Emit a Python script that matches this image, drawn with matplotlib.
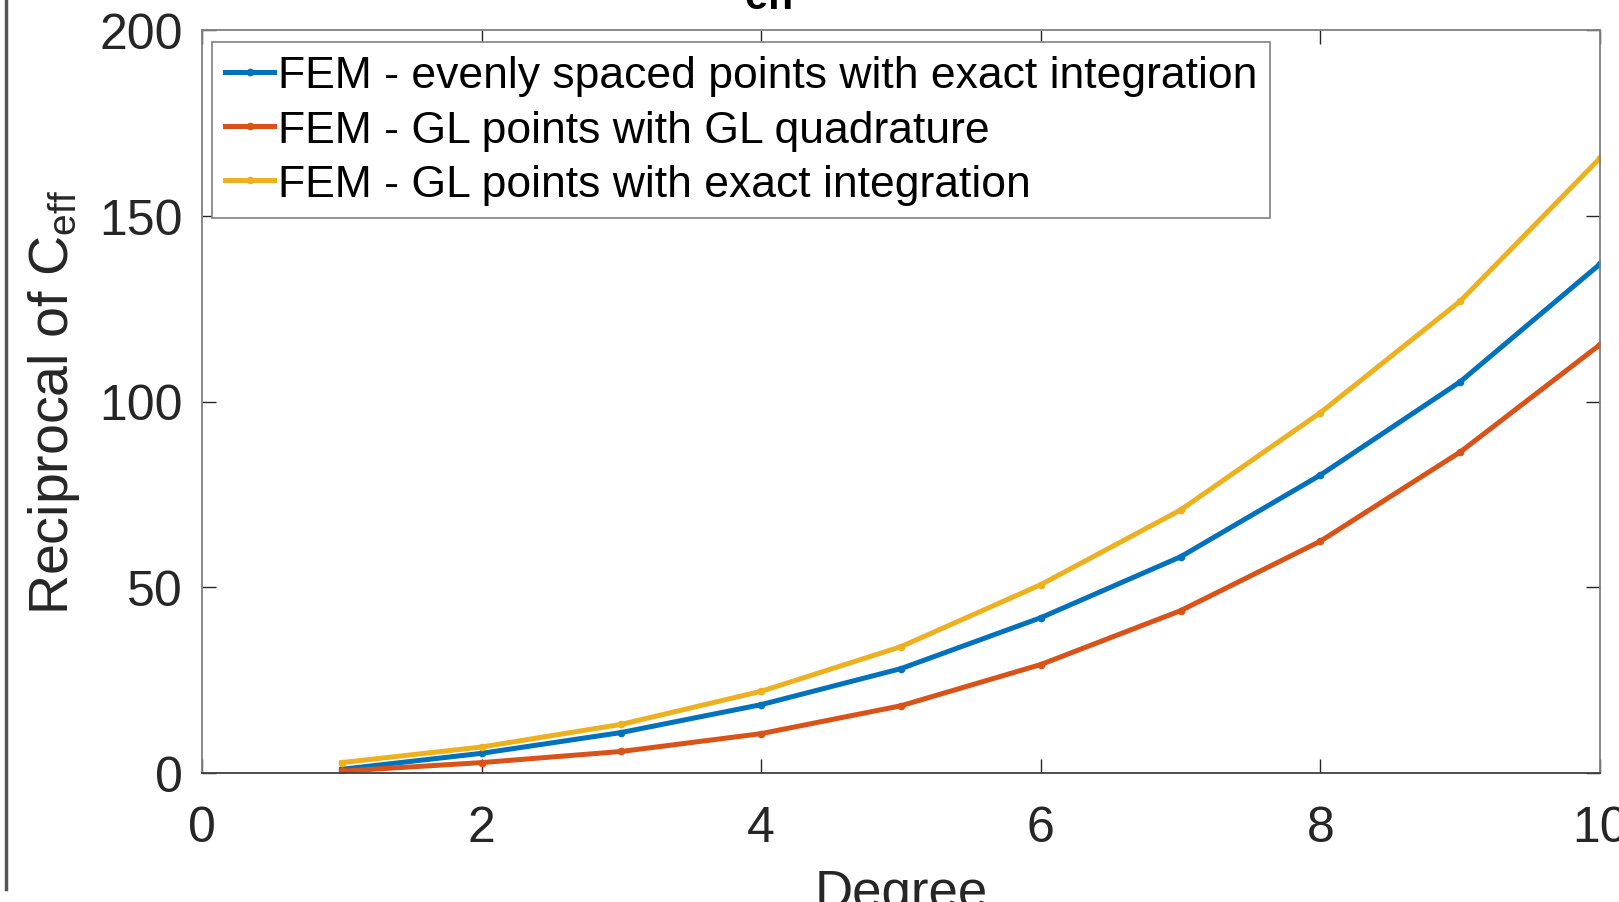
"""
Reciprocal of C_eff against polynomial degree for three FEM variants.
"""

import matplotlib
matplotlib.use("Agg")
import matplotlib.pyplot as plt
from matplotlib.lines import Line2D

plt.rcParams["font.family"] = ["Liberation Sans", "DejaVu Sans"]
plt.rcParams["mathtext.fontset"] = "custom"
plt.rcParams["mathtext.rm"] = "Liberation Sans"
plt.rcParams["mathtext.it"] = "Liberation Sans"

# Data
degree = [1, 2, 3, 4, 5, 6, 7, 8, 9, 10]
even_exact = [1.0, 5.3, 10.9, 18.4, 28.1, 41.8, 58.2, 80.2, 105.3, 137.0]
gl_gl = [0.5, 2.8, 5.8, 10.6, 18.1, 29.2, 43.7, 62.4, 86.4, 115.3]
gl_exact = [2.8, 7.0, 13.1, 22.0, 34.0, 50.7, 70.8, 97.0, 127.0, 165.5]
labels = [
    "FEM - evenly spaced points with exact integration",
    "FEM - GL points with GL quadrature",
    "FEM - GL points with exact integration",
]
colors = ["#0072BD", "#D95319", "#EDB120"]
xticks = [0, 2, 4, 6, 8, 10]
yticks = [0, 50, 100, 150, 200]

W, H = 1619, 903


def main():
    fig = plt.figure(figsize=(W / 100, H / 100), dpi=100)
    ax = fig.add_axes([202 / W, 1 - 774 / H, (1600 - 202) / W, (774 - 31) / H])

    for ys, c, lab in zip([even_exact, gl_gl, gl_exact], colors, labels):
        ax.plot(degree, ys, "-", color=c, lw=3.6, marker=".", ms=9, label=lab)

    ax.set_xlim(0, 10)
    ax.set_ylim(0, 200)
    ax.set_xticks(xticks)
    ax.set_yticks(yticks)
    ax.tick_params(direction="in", length=10, width=1, colors="#262626",
                   labelsize=36, top=True, right=True)
    ax.tick_params(axis="x", pad=23)
    ax.tick_params(axis="y", pad=14)
    for s in ax.spines.values():
        s.set_color("#808080")
        s.set_linewidth(1.3)
    ax.spines["bottom"].set_color("#404040")

    ax.set_xlabel("Degree", fontsize=38, color="#262626", labelpad=12)
    ax.set_ylabel(r"Reciprocal of C$_{\mathrm{eff}}$", fontsize=40,
                  color="#262626", labelpad=12)

    handles = [Line2D([], [], color=c, lw=3.6, marker=".", ms=9) for c in colors]
    leg = ax.legend(handles, labels, loc="upper left",
                    bbox_to_anchor=(10 / 1398, 1 - 12 / 743),
                    fontsize=32, frameon=True, fancybox=False, framealpha=1,
                    edgecolor="#808080", handlelength=1.1, handletextpad=0.08,
                    borderpad=0.3, labelspacing=0.3, borderaxespad=0)
    leg.get_frame().set_linewidth(1.2)

    # title, mostly cut off by the crop
    fig.text(770 / W, 1 - 9 / H, "eff", fontsize=30, fontweight="bold",
             ha="center", va="baseline", color="#000000")

    # page border line on the left
    fig.add_artist(Line2D([6 / W, 6 / W], [1.0, 1 - 890 / H],
                          color="#555555", lw=2.5))

    fig.savefig("out.png", dpi=100, facecolor="white")


if __name__ == "__main__":
    main()
